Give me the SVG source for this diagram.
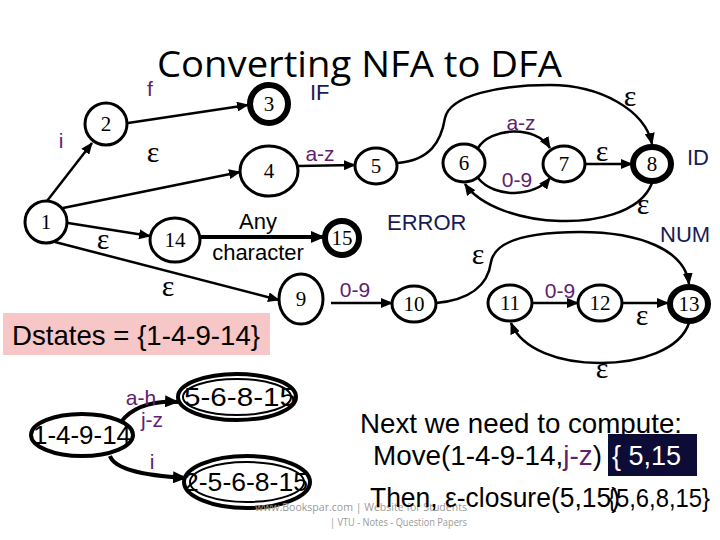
<svg xmlns="http://www.w3.org/2000/svg" width="720" height="540" viewBox="0 0 720 540">
<defs>
<marker id="ah" viewBox="0 0 12 10" refX="11" refY="5" markerWidth="12" markerHeight="10" orient="auto" markerUnits="userSpaceOnUse"><path d="M0,0 L12,5 L0,10 z" fill="#000"/></marker>
<marker id="ahb" viewBox="0 0 14 12" refX="13" refY="6" markerWidth="14" markerHeight="12" orient="auto" markerUnits="userSpaceOnUse"><path d="M0,0 L14,6 L0,12 z" fill="#000"/></marker>
</defs>
<style>
.st{fill:#fff;stroke:#000;stroke-width:3}
.acc{fill:#fff;stroke:#000;stroke-width:6}
.nt{font-family:"Liberation Serif",serif;font-size:21px;text-anchor:middle;fill:#000}
.e{fill:none;stroke:#000;stroke-width:2.5;marker-end:url(#ah)}
.eb{fill:none;stroke:#000;stroke-width:4;marker-end:url(#ahb)}
.eps{font-family:"Liberation Serif",serif;font-size:30px;text-anchor:middle;fill:#000}
.pl{font-family:"Liberation Sans",Arial,sans-serif;font-size:21px;text-anchor:middle;fill:#602070}
.nl{font-family:"Liberation Sans",Arial,sans-serif;font-size:22px;fill:#1a1a55}
.bl{font-family:"Liberation Sans",Arial,sans-serif;fill:#000}
.dn{fill:#fff;stroke:#000;stroke-width:4}
.dt{font-family:"Liberation Sans",Arial,sans-serif;font-size:26px;text-anchor:middle;fill:#000}
.wm{font-family:"Open Sans","Liberation Sans",sans-serif;font-size:11px;fill:#9a9a9a}
</style>
<rect width="720" height="540" fill="#fff"/>
<text x="157" y="77" font-family="Open Sans, Noto Sans, sans-serif" font-size="37" textLength="405" lengthAdjust="spacingAndGlyphs" fill="#000">Converting NFA to DFA</text>

<g id="connectors">
<path class="e" d="M47,201 L92,143"/>
<path class="e" d="M128,123 L248,105"/>
<path class="e" d="M63,208 L240,172"/>
<path class="e" d="M68,223 L150,236"/>
<path class="e" d="M55,242 L279,300"/>
<path class="e" d="M298,166 L355,165"/>
<path class="eb" d="M200,237 L324,237"/>
<path class="e" d="M398,163 C430,160 441,142 445,118 C450,95 500,85 550,85 C600,85 645,110 652,144"/>
<path class="e" d="M478,148 C490,128 535,124 550,148"/>
<path class="e" d="M478,178 C495,199 535,197 550,178"/>
<path class="e" d="M585,164 L632,164"/>
<path class="e" d="M652,183 C640,215 590,222 560,221 C520,220 480,206 465,184"/>
<path class="e" d="M331,303 L392,303"/>
<path class="e" d="M436,303 C470,300 488,285 491,262 C495,240 530,232 580,232 C640,232 685,250 689,284"/>
<path class="e" d="M532,303 L578,303"/>
<path class="e" d="M622,303 L668,303"/>
<path class="e" d="M689,323 C680,350 640,363 600,363 C560,363 522,350 511,323"/>
<path class="eb" d="M121,422 Q138,400 178,402"/>
<path class="eb" d="M110,456 Q116,474 186,478"/>
</g>

<g id="n1"><circle class="st" cx="46" cy="222" r="21"/><text class="nt" x="46" y="229">1</text></g>
<g id="n2"><circle class="st" cx="106" cy="124" r="21"/><text class="nt" x="106" y="131">2</text></g>
<g id="n3"><circle class="acc" cx="269" cy="104" r="19"/><text class="nt" x="269" y="111">3</text></g>
<g id="n4"><ellipse class="st" cx="269" cy="171" rx="29" ry="25"/><text class="nt" x="269" y="178">4</text></g>
<g id="n5"><ellipse class="st" cx="376" cy="166" rx="21" ry="18"/><text class="nt" x="376" y="173">5</text></g>
<g id="n6"><ellipse class="st" cx="464" cy="163" rx="21" ry="19"/><text class="nt" x="464" y="170">6</text></g>
<g id="n7"><ellipse class="st" cx="564" cy="164" rx="21" ry="18"/><text class="nt" x="564" y="171">7</text></g>
<g id="n8"><ellipse class="acc" cx="652" cy="164" rx="19" ry="17"/><text class="nt" x="652" y="171">8</text></g>
<g id="n14"><ellipse class="st" cx="175" cy="240" rx="25" ry="22"/><text class="nt" x="175" y="247">14</text></g>
<g id="n15"><circle class="acc" cx="342" cy="238" r="17"/><text class="nt" x="342" y="245">15</text></g>
<g id="n9"><ellipse class="st" cx="301" cy="299" rx="22" ry="25"/><text class="nt" x="301" y="306">9</text></g>
<g id="n10"><ellipse class="st" cx="414" cy="304" rx="22" ry="18"/><text class="nt" x="414" y="311">10</text></g>
<g id="n11"><ellipse class="st" cx="510" cy="303" rx="22" ry="18"/><text class="nt" x="510" y="310">11</text></g>
<g id="n12"><ellipse class="st" cx="600" cy="303" rx="22" ry="18"/><text class="nt" x="600" y="310">12</text></g>
<g id="n13"><ellipse class="acc" cx="689" cy="304" rx="19" ry="17"/><text class="nt" x="689" y="311">13</text></g>

<g id="edge-labels">
<text class="pl" x="61" y="148" font-size="19">i</text>
<text class="pl" x="150" y="96" font-size="19">f</text>
<text class="nl" x="310" y="100">IF</text>
<text class="eps" x="153" y="162">ε</text>
<text class="eps" x="103" y="249">ε</text>
<text class="eps" x="168" y="296">ε</text>
<text class="pl" x="320" y="161">a-z</text>
<text class="bl" x="258" y="229" font-size="22" text-anchor="middle">Any</text>
<text class="bl" x="258" y="260" font-size="22" text-anchor="middle">character</text>
<text class="eps" x="630" y="106">ε</text>
<text class="pl" x="521" y="130">a-z</text>
<text class="pl" x="517" y="187">0-9</text>
<text class="eps" x="602" y="161" font-size="18">ε</text>
<text class="nl" x="687" y="165">ID</text>
<text class="eps" x="643" y="214">ε</text>
<text class="nl" x="387" y="230">ERROR</text>
<text class="nl" x="660" y="242">NUM</text>
<text class="eps" x="478" y="264">ε</text>
<text class="pl" x="355" y="297">0-9</text>
<text class="pl" x="560" y="298">0-9</text>
<text class="eps" x="642" y="325">ε</text>
<text class="eps" x="602" y="378">ε</text>
</g>

<g id="dstates">
<rect x="3" y="313" width="267" height="42" fill="#f7c6c6"/>
<text class="bl" x="12" y="345" font-size="27.6" textLength="248" lengthAdjust="spacingAndGlyphs">Dstates = {1-4-9-14}</text>
</g>

<g id="d1"><ellipse class="dn" cx="82" cy="435" rx="51" ry="21"/><text class="dt" x="82" y="444" textLength="98" lengthAdjust="spacingAndGlyphs">1-4-9-14</text></g>
<g id="d2"><ellipse class="dn" cx="237" cy="397" rx="59" ry="23" stroke-width="5"/><ellipse cx="237" cy="397" rx="54" ry="18" fill="none" stroke="#000" stroke-width="2"/><text class="dt" x="240" y="406" textLength="112" lengthAdjust="spacingAndGlyphs">5-6-8-15</text></g>
<g id="d3"><ellipse class="dn" cx="247" cy="482" rx="63" ry="26" stroke-width="5"/><ellipse cx="247" cy="482" rx="57" ry="20" fill="none" stroke="#000" stroke-width="2"/><text class="dt" x="246" y="491" textLength="124" lengthAdjust="spacingAndGlyphs">2-5-6-8-15</text></g>
<g id="dfa-labels">
<text class="pl" x="141" y="405" font-size="22">a-h</text>
<text class="pl" x="152" y="427" font-size="22">j-z</text>
<text class="pl" x="152" y="469" font-size="22">i</text>
</g>

<g id="notes">
<text class="bl" x="360" y="433" font-size="27.7" textLength="322" lengthAdjust="spacingAndGlyphs">Next we need to compute:</text>
<text class="bl" x="373" y="465" font-size="27" textLength="229" lengthAdjust="spacingAndGlyphs">Move(1-4-9-14,<tspan fill="#602070">j-z</tspan>)</text>
<rect x="608" y="434" width="89" height="42" fill="#0c0c36"/>
<text x="612" y="465" font-family="Liberation Sans, Arial, sans-serif" font-size="27" fill="#fff">{ 5,15</text>
<text class="wm" x="255" y="511" textLength="212" lengthAdjust="spacingAndGlyphs">www.Bookspar.com | Website for Students</text>
<text class="wm" x="330" y="526" textLength="137" lengthAdjust="spacingAndGlyphs">| VTU - Notes - Question Papers</text>
<text class="bl" x="370" y="507" font-size="27" textLength="250" lengthAdjust="spacingAndGlyphs">Then, ε-closure(5,15)</text>
<text class="bl" x="608" y="507" font-size="26" textLength="102" lengthAdjust="spacingAndGlyphs">{5,6,8,15}</text>
</g>
</svg>
